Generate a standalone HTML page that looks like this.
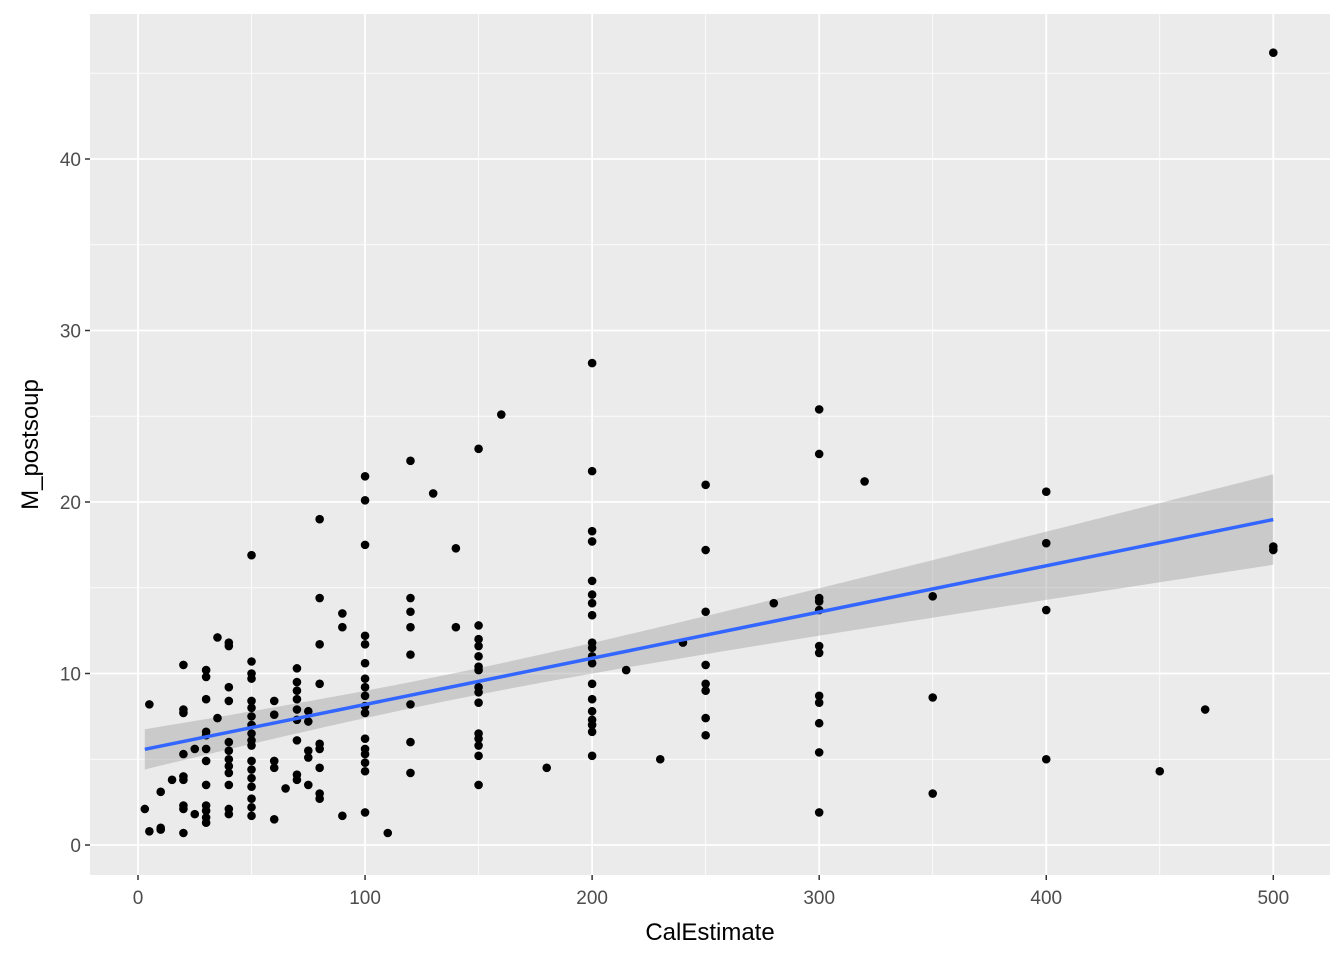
<!DOCTYPE html>
<html><head><meta charset="utf-8"><style>
body{margin:0;background:#fff;font-family:"Liberation Sans",sans-serif}
</style></head><body>
<svg id="chart" width="1344" height="960" xmlns="http://www.w3.org/2000/svg"></svg>
<script>
const xTicks=[0,100,200,300,400,500];
const yTicks=[0,10,20,30,40];
const groups=[
[3,[2.1]],[5,[8.2,0.8]],[10,[1.0,0.9,3.1]],[15,[3.8]],
[20,[10.5,7.9,7.7,5.3,4.0,3.8,2.3,2.1,0.7]],[25,[5.6,1.8]],
[30,[10.2,9.8,8.5,6.6,6.4,5.6,4.9,3.5,2.3,2.0,1.6,1.3]],[35,[12.1,7.4]],
[40,[11.8,11.6,9.2,8.4,6.0,5.5,5.0,4.6,4.2,3.5,2.1,1.8]],
[50,[16.9,10.7,10.0,9.7,8.4,8.0,7.5,7.0,6.5,6.1,5.8,4.9,4.4,3.9,3.4,2.7,2.2,1.7]],
[60,[8.4,7.6,4.9,4.5,1.5]],[65,[3.3]],
[70,[10.3,9.5,9.0,8.5,7.9,7.3,6.1,4.1,3.8]],[75,[7.8,7.2,5.5,5.1,3.5]],
[80,[19.0,14.4,11.7,9.4,5.9,5.6,4.5,3.0,2.7]],[90,[13.5,12.7,1.7]],
[100,[21.5,20.1,17.5,12.2,11.7,10.6,9.7,9.2,8.7,8.1,7.7,6.2,5.6,5.3,4.8,4.3,1.9]],
[110,[0.7]],[120,[22.4,14.4,13.6,12.7,11.1,8.2,6.0,4.2]],[130,[20.5]],[140,[17.3,12.7]],
[150,[23.1,12.8,12.0,11.6,11.0,10.4,10.2,9.2,8.9,8.3,6.5,6.2,5.8,5.2,3.5]],
[160,[25.1]],[180,[4.5]],
[200,[28.1,21.8,18.3,17.7,15.4,14.6,14.1,13.4,11.8,11.5,11.0,10.6,9.4,8.5,7.8,7.3,7.0,6.6,5.2]],
[215,[10.2]],[230,[5.0]],[240,[11.8]],
[250,[21.0,17.2,13.6,10.5,9.4,9.0,7.4,6.4]],[280,[14.1]],
[300,[25.4,22.8,14.4,14.2,13.7,11.6,11.2,8.7,8.3,7.1,5.4,1.9]],
[320,[21.2]],[350,[14.5,8.6,3.0]],[400,[20.6,17.6,13.7,5.0]],
[450,[4.3]],[470,[7.9]],[500,[46.2,17.4,17.2]]
];
const NS="http://www.w3.org/2000/svg";
const svg=document.getElementById('chart');
const X=v=>138+v*2.2706, Y=v=>845-v*17.15;
const L=90,R=1330,T=14,B=875;
function el(t,a,p){const e=document.createElementNS(NS,t);for(const k in a)e.setAttribute(k,a[k]);(p||svg).appendChild(e);return e;}
const bg=el('rect',{x:L,y:T,width:R-L,height:B-T,fill:'#ebebeb'});


for(let i=0;i<xTicks.length-1;i++){const m=(xTicks[i]+xTicks[i+1])/2;el('line',{x1:X(m),x2:X(m),y1:T,y2:B,stroke:'#fff','stroke-width':0.8});}
for(let i=0;i<yTicks.length;i++){const m=yTicks[i]+5;el('line',{x1:L,x2:R,y1:Y(m),y2:Y(m),stroke:'#fff','stroke-width':0.8});}
xTicks.forEach(t=>{el('line',{x1:X(t),x2:X(t),y1:T,y2:B,stroke:'#fff','stroke-width':1.8});
 el('line',{x1:X(t),x2:X(t),y1:B,y2:B+5,stroke:'#333','stroke-width':1.5});
 const tx=el('text',{x:X(t),y:B+29,'text-anchor':'middle','font-size':19,fill:'#4d4d4d'});tx.textContent=t;
 
 });
yTicks.forEach(t=>{el('line',{x1:L,x2:R,y1:Y(t),y2:Y(t),stroke:'#fff','stroke-width':1.8});
 el('line',{x1:L-5,x2:L,y1:Y(t),y2:Y(t),stroke:'#333','stroke-width':1.5});
 const tx=el('text',{x:L-9,y:Y(t)+7,'text-anchor':'end','font-size':19,fill:'#4d4d4d'});tx.textContent=t;
 
 });
// regression
const pts=[];groups.forEach(g=>g[1].forEach(v=>pts.push([g[0],v])));
const n=pts.length;let mx=0,my=0;pts.forEach(p=>{mx+=p[0];my+=p[1];});mx/=n;my/=n;
let sxx=0,sxy=0;pts.forEach(p=>{sxx+=(p[0]-mx)**2;sxy+=(p[0]-mx)*(p[1]-my);});
const b=sxy/sxx,a=my-b*mx;let sse=0;pts.forEach(p=>{sse+=(p[1]-a-b*p[0])**2;});
const s=Math.sqrt(sse/(n-2));
const x0=Math.min(...pts.map(p=>p[0])),x1=Math.max(...pts.map(p=>p[0]));
let up=[],lo=[];
for(let i=0;i<=80;i++){const x=x0+(x1-x0)*i/80;const f=a+b*x;const se=1.97*s*Math.sqrt(1/n+(x-mx)**2/sxx);
 up.push(X(x)+','+Y(f+se));lo.unshift(X(x)+','+Y(f-se));}
for(const p of pts){}
const band=el('polygon',{points:up.concat(lo).join(' '),fill:'#999','fill-opacity':0.4});


const gp=el('g',{});


pts.forEach(p=>{const c=el('circle',{cx:X(p[0]),cy:Y(p[1]),r:4.3,fill:'#000'},gp);
 
 });
const ln=el('line',{x1:X(x0),y1:Y(a+b*x0),x2:X(x1),y2:Y(a+b*x1),stroke:'#3366ff','stroke-width':3.5});


const xl=el('text',{x:(L+R)/2,y:940,'text-anchor':'middle','font-size':24,fill:'#000'});xl.textContent='CalEstimate';


const yl=el('text',{x:0,y:0,'text-anchor':'middle','font-size':24,fill:'#000',transform:'translate(38,'+((T+B)/2)+') rotate(-90)'});yl.textContent='M_postsoup';


</script>
</body></html>
